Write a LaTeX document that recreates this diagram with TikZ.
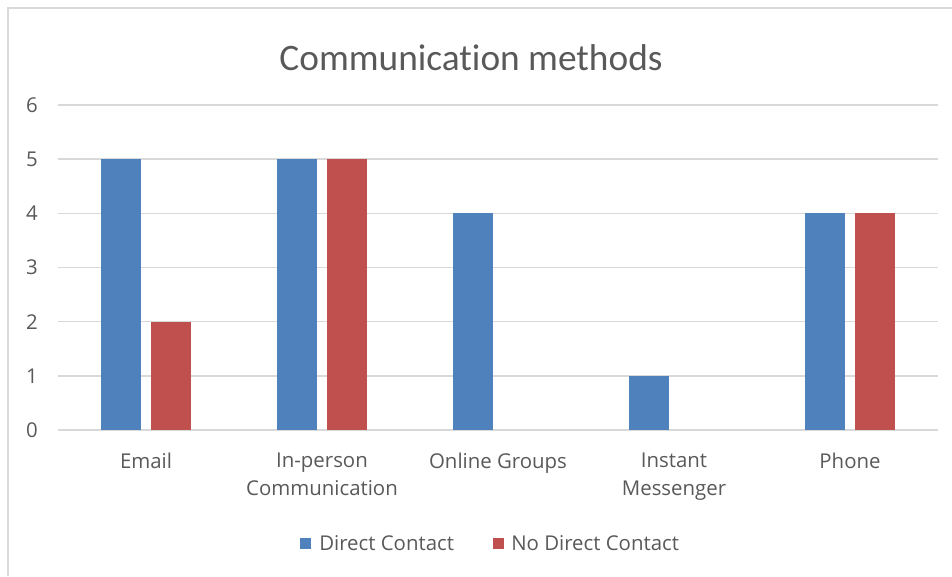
\documentclass[tikz,border=0pt]{standalone}
\usepackage{fontspec}
\setmainfont{Open Sans}
\newfontfamily\titlefont[Ligatures={NoCommon,NoDiscretionary}]{Carlito}
\definecolor{dcblue}{HTML}{4F81BD}
\definecolor{ndcred}{HTML}{C0504D}
\definecolor{gridgray}{HTML}{D9D9D9}
\definecolor{textgray}{HTML}{595959}
\begin{document}
\begin{tikzpicture}[x=0.75pt,y=-0.75pt,
  lbl/.style={text=textgray,font=\fontsize{15.3}{21}\selectfont,align=center,inner sep=0pt},
  keybox/.style={minimum size=8.25pt,inner sep=0pt}]
  \useasboundingbox (0,0) rectangle (952,576);
  % chart frame
  \draw[gridgray,line width=1.5pt] (8,576) -- (8,8) -- (952,8);
  \node[text=textgray,font=\titlefont\fontsize{28}{32}\selectfont] (title) at (471,58) {Communication methods};
  % gridlines and y ticks
  \foreach \v in {0,...,6} {
    \draw[gridgray,line width=1pt] (58,{430-\v*54.17}) -- (938,{430-\v*54.17});
    \node[lbl,anchor=east] (t\v) at (38,{430-\v*54.17}) {\v};
  }
  % bars per category
  \foreach \cat/\dc/\ndc [count=\i from 0] in
      {Email/5/2, In-person\\Communication/5/5, Online Groups/4/0,
       Instant\\Messenger/1/0, Phone/4/4} {
    \pgfmathsetmacro{\c}{146+176*\i}
    \ifnum\dc>0 \fill[dcblue] (\c-45,430) rectangle (\c-5,{430-\dc*54.17}); \fi
    \ifnum\ndc>0 \fill[ndcred] (\c+5,430) rectangle (\c+45,{430-\ndc*54.17}); \fi
    \node[lbl,anchor=north] (c\i) at (\c,453) {\cat};
  }
  % legend
  \node[keybox,fill=dcblue] (kdc) at (305.5,543) {};
  \node[lbl,anchor=west] (ldc) at (319,543) {Direct Contact};
  \node[keybox,fill=ndcred] (kndc) at (498.5,543) {};
  \node[lbl,anchor=west] (lndc) at (511,543) {No Direct Contact};
\end{tikzpicture}
\end{document}
